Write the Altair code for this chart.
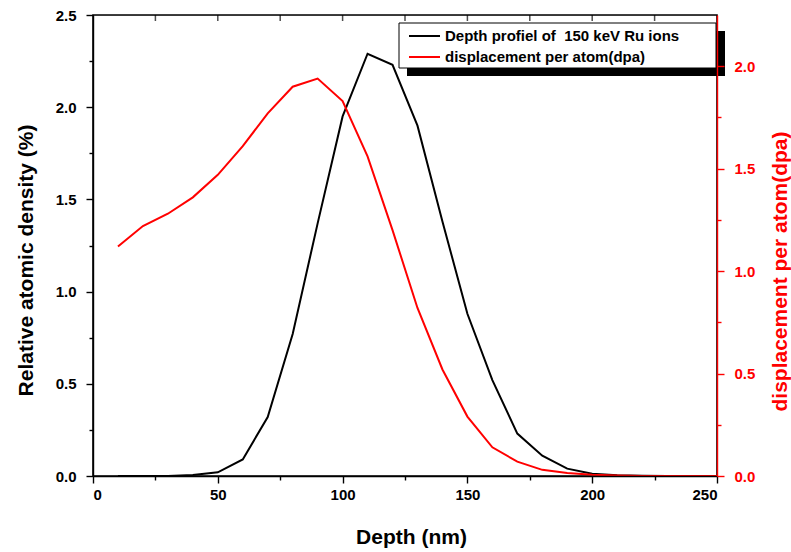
import altair as alt
import pandas as pd

# Depth grid (nm)
depth = [10, 20, 30, 40, 50, 60, 70, 80, 90, 100, 110, 120, 130, 140, 150,
         160, 170, 180, 190, 200, 210, 220, 230, 240, 250]
# Relative atomic density of implanted Ru (%)
density = [0.0, 0.0, 0.0, 0.005, 0.02, 0.09, 0.32, 0.77, 1.37, 1.95, 2.29,
           2.23, 1.90, 1.38, 0.88, 0.52, 0.23, 0.11, 0.04, 0.012, 0.004,
           0.001, 0.0, 0.0, 0.0]
# Displacement per atom (dpa)
dpa = [1.12, 1.22, 1.28, 1.36, 1.47, 1.61, 1.77, 1.90, 1.94, 1.83, 1.56,
       1.20, 0.82, 0.52, 0.29, 0.14, 0.07, 0.03, 0.015, 0.006, 0.002, 0.0,
       0.0, 0.0, 0.0]

# Tick positions (major ticks carry labels, the others are minor)
x_ticks = [0, 25, 50, 75, 100, 125, 150, 175, 200, 225, 250]
yl_ticks = [0, 0.25, 0.5, 0.75, 1.0, 1.25, 1.5, 1.75, 2.0, 2.25, 2.5]
yr_ticks = [0, 0.25, 0.5, 0.75, 1.0, 1.25, 1.5, 1.75, 2.0]
top_ticks = [25, 50, 75, 100, 125, 150, 175, 200, 225]

legend_labels = ["Depth profiel of\u00a0 150 keV Ru ions",
                 "displacement per atom(dpa)"]
legend_colors = ["#000000", "#ff0000"]

W, H = 624, 461
FONT = "Liberation Sans"
RED = "#ff0000"

df = pd.DataFrame({"depth": depth, "density": density, "dpa": dpa})
base = alt.Chart(df)

x_scale = alt.Scale(domain=[0, 250], nice=False, zero=False)
yl_scale = alt.Scale(domain=[0, 2.5], nice=False)
yr_scale = alt.Scale(domain=[0, 2.25], nice=False)

major_x = "datum.value % 50 === 0"
major_y = "round(datum.value * 100) % 50 === 0"


def tick_size(test):
    return {"condition": {"test": test, "value": 7}, "value": 4}


axis_common = dict(labelFont=FONT, labelFontWeight="bold", labelFontSize=15,
                   titleFont=FONT, titleFontWeight="bold", titleFontSize=21,
                   grid=False, zindex=1, domainWidth=1.4, tickWidth=1.4)

x_axis = alt.Axis(title="Depth (nm)", values=x_ticks,
                  labelExpr=f"{major_x} ? datum.label : ''",
                  tickSize=tick_size(major_x), labelPadding=4,
                  labelColor="black", domainColor="black", tickColor="black",
                  titleColor="black", titleX=318, titleY=61,
                  titleBaseline="middle", **axis_common)

yl_axis = alt.Axis(title="Relative atomic density (%)", values=yl_ticks,
                   format=".1f",
                   labelExpr=f"{major_y} ? datum.label : ''",
                   tickSize=tick_size(major_y), labelPadding=10,
                   labelColor="black", domainColor="black", tickColor="black",
                   titleColor="black", titleX=-67, titleY=245,
                   titleAngle=270, titleBaseline="middle", **axis_common)

yr_axis = alt.Axis(title="displacement per atom(dpa)", orient="right",
                   values=yr_ticks, format=".1f",
                   labelExpr=f"{major_y} ? datum.label : ''",
                   tickSize=tick_size(major_y), labelPadding=10,
                   labelColor=RED, domainColor=RED, tickColor=RED,
                   titleColor=RED, titleX=63, titleY=256, titleAngle=270,
                   titleBaseline="middle", **axis_common)

# Plot frame (left, bottom and right edges are covered by the axes)
one = pd.DataFrame({"a": [0]})
frame = alt.Chart(one).mark_rect(
    fillOpacity=0, stroke="black", strokeWidth=1.6).encode(
    x=alt.value(0), x2=alt.value(W), y=alt.value(0), y2=alt.value(H))

density_line = base.mark_line(color="black", strokeWidth=2).encode(
    x=alt.X("depth:Q", scale=x_scale, axis=x_axis),
    y=alt.Y("density:Q", scale=yl_scale, axis=yl_axis),
)
dpa_line = base.mark_line(color=RED, strokeWidth=2).encode(
    x=alt.X("depth:Q", scale=x_scale, axis=x_axis),
    y=alt.Y("dpa:Q", scale=yr_scale, axis=yr_axis),
)

# Inward-pointing ticks along the top frame
top_tick_marks = alt.Chart(pd.DataFrame({"depth": top_ticks})).mark_tick(
    color="black", thickness=1.5, size=6).encode(
    x=alt.X("depth:Q", scale=x_scale, axis=x_axis),
    y=alt.value(3))

# Legend box with a drop shadow
shadow = alt.Chart(one).mark_rect(color="black").encode(
    x=alt.value(314), x2=alt.value(632), y=alt.value(16), y2=alt.value(61))
box = alt.Chart(one).mark_rect(
    fill="white", stroke="black", strokeWidth=1).encode(
    x=alt.value(306), x2=alt.value(623), y=alt.value(8), y2=alt.value(53))
leg = alt.Chart(pd.DataFrame({"label": legend_labels, "color": legend_colors,
                              "row": [0, 1]}))
leg_y = alt.Y("row:Q", scale=alt.Scale(domain=[0, 1], range=[21, 42]),
              axis=None)
leg_lines = leg.mark_rule(strokeWidth=2).encode(
    x=alt.value(316), x2=alt.value(347), y=leg_y,
    color=alt.Color("color:N", scale=None))
leg_text = leg.mark_text(align="left", baseline="middle", font=FONT,
                         fontWeight="bold", fontSize=15, color="black").encode(
    x=alt.value(352), y=leg_y, text="label:N")

chart = alt.layer(
    frame, density_line, dpa_line, top_tick_marks,
    shadow, box, leg_lines, leg_text,
).resolve_scale(y="independent").properties(
    width=W, height=H,
    autosize=alt.AutoSizeParams(type="none"),
    padding={"left": 93, "top": 15, "right": 74, "bottom": 76},
).configure_view(stroke=None).configure(background="white")

chart.save("out.html", embed_options={"renderer": "svg", "actions": False})
